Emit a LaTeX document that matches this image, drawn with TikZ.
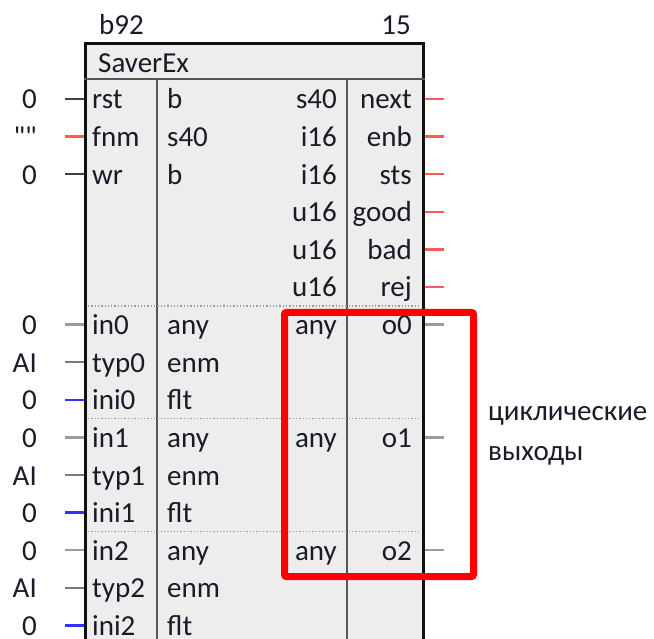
\documentclass[tikz,border=0pt]{standalone}
\usepackage{fontspec}
\setmainfont{Carlito}[Ligatures=TeXOff]
\usetikzlibrary{positioning, calc}
\definecolor{BlockFill}{HTML}{EDEDED}
\definecolor{BlockLine}{HTML}{101010}
\definecolor{DivLine}{HTML}{555555}
\definecolor{PinDark}{HTML}{404040}
\definecolor{PinMid}{HTML}{7A7A7A}
\definecolor{PinGrey}{HTML}{9C9C9C}
\definecolor{PinRed}{HTML}{FF5A5A}
\definecolor{PinBlue}{HTML}{3030FF}
\definecolor{FrameRed}{HTML}{FF0000}
\definecolor{TextDark}{HTML}{1A1A28}
\tikzset{
    lbl/.style={
        inner sep=0pt,
        font=\fontsize{29}{34}\selectfont,
        text=TextDark,
        text height=22pt,
        text depth=2pt
    },
    lleft/.style={lbl, anchor=west},
    lright/.style={lbl, anchor=east},
    block/.style={
        draw=BlockLine,
        fill=BlockFill,
        line width=3pt,
        minimum width=338pt,
        minimum height=620pt,
        anchor=north west,
        inner sep=0pt
    },
    divider/.style={
        line width=2pt,
        DivLine
    },
    groupsep/.style={
        line width=1.3pt,
        dotted,
        PinGrey
    },
    pin/.style={
        line width=2.5pt,
        #1
    },
    pin/.default=PinDark,
    redframe/.style={
        draw=FrameRed,
        line width=7pt,
        rounded corners=2pt,
        anchor=north west,
        inner sep=0pt
    },
    caption/.style={
        inner sep=0pt,
        font=\fontsize{29}{40}\selectfont,
        text=TextDark,
        align=left,
        anchor=west
    }
}
\begin{document}
\begin{tikzpicture}[x=1pt, y=-1pt]
        \useasboundingbox (0,0) rectangle (654,639);
        \clip (0,0) rectangle (654,639);

        % Block body
        \node[block] (blk) at (84,42) {};
        \node[lleft] (blkid) at (99,25) {b92};
        \node[lright] (blkord) at (411,25) {15};
        \node[lleft] (title) at (98,63) {SaverEx};
        \draw[divider] (blk.west |- 0,79) -- (blk.east |- 0,79);
        \draw[divider] (157,79) -- (157,662);
        \draw[divider] (347,79) -- (347,662);

        % Group separators
        \foreach \sy in {306,418.6,531.4}
            \draw[groupsep] (88,\sy) -- (419,\sy);

        % Inputs: row / name / type / value / pin colour
        \foreach \r/\nm/\ty/\val/\pc in {
            0/rst/b/0/PinDark, 1/fnm/s40/""/PinRed, 2/wr/b/0/PinDark,
            6/in0/any/0/PinGrey, 7/typ0/enm/AI/PinMid, 8/ini0/flt/0/PinBlue,
            9/in1/any/0/PinGrey, 10/typ1/enm/AI/PinMid, 11/ini1/flt/0/PinBlue,
            12/in2/any/0/PinGrey, 13/typ2/enm/AI/PinMid, 14/ini2/flt/0/PinBlue}
        {
            \node[lleft] (in-\nm) at (92,{99+37.6*\r}) {\nm};
            \node[lleft] (ty-\nm) at (167,{99+37.6*\r}) {\ty};
            \node[lright] (val-\nm) at (37,{99+37.6*\r}) {\val};
            \draw[pin=\pc] (in-\nm.west -| blk.west) -- ++(-19,0);
        }

        % Outputs: row / name / type / pin colour
        \foreach \r/\nm/\ty/\pc in {
            0/next/s40/PinRed, 1/enb/i16/PinRed, 2/sts/i16/PinRed,
            3/good/u16/PinRed, 4/bad/u16/PinRed, 5/rej/u16/PinRed,
            6/o0/any/PinGrey, 9/o1/any/PinGrey, 12/o2/any/PinGrey}
        {
            \node[lright] (out-\nm) at (412,{99+37.6*\r}) {\nm};
            \node[lright] (oty-\nm) at (337,{99+37.6*\r}) {\ty};
            \draw[pin=\pc] (out-\nm.east -| blk.east) -- ++(19,0);
        }

        % Cyclic outputs highlight
        \node[redframe, minimum width=189pt, minimum height=264pt] (cyc) at (281,309) {};
        \node[caption] (cyclbl) at (488,436) {циклические\\выходы};
    \end{tikzpicture}
\end{document}
